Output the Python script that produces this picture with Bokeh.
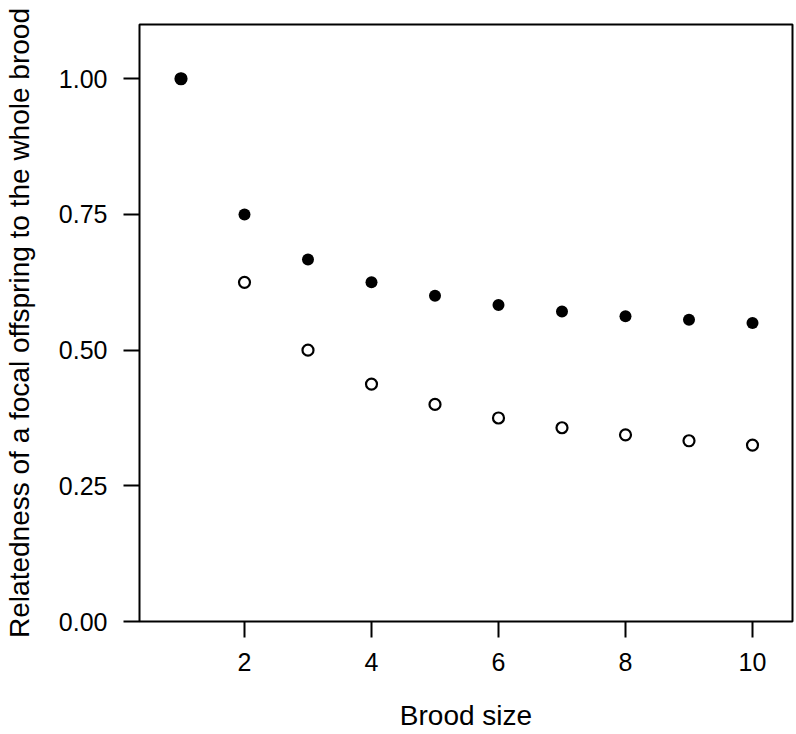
from bokeh.plotting import figure
from bokeh.models import FixedTicker, PrintfTickFormatter, Range1d
from bokeh.embed import file_html
from bokeh.resources import INLINE

# Data
brood_size = [1, 2, 3, 4, 5, 6, 7, 8, 9, 10]
related_filled = [1.00, 0.75, 0.667, 0.625, 0.60, 0.583, 0.571, 0.5625, 0.556, 0.55]
related_open = [1.00, 0.625, 0.50, 0.4375, 0.40, 0.375, 0.357, 0.344, 0.333, 0.325]
x_ticks = [2, 4, 6, 8, 10]
y_ticks = [0.0, 0.25, 0.5, 0.75, 1.0]

FONT = "Liberation Sans"

p = figure(
    width=796, height=734,
    x_range=Range1d(0.3465, 10.63), y_range=Range1d(0, 1.1),
    output_backend="svg", toolbar_location=None,
    min_border_left=139, min_border_right=4,
    min_border_top=24, min_border_bottom=113,
    background_fill_color="white", border_fill_color="white",
)

p.xgrid.visible = False
p.ygrid.visible = False
p.outline_line_color = "black"
p.outline_line_width = 2
p.outline_line_alpha = 1

for ax in (p.xaxis[0], p.yaxis[0]):
    ax.axis_line_color = None
    ax.major_tick_line_color = "black"
    ax.major_tick_line_width = 2
    ax.major_tick_out = 16
    ax.major_tick_in = 0
    ax.minor_tick_line_color = None
    ax.major_label_text_font = FONT
    ax.major_label_text_font_size = "25px"
    ax.major_label_text_color = "black"
    ax.axis_label_text_font = FONT
    ax.axis_label_text_font_size = "28px"
    ax.axis_label_text_font_style = "normal"
    ax.axis_label_text_color = "black"

p.xaxis.ticker = FixedTicker(ticks=x_ticks)
p.yaxis.ticker = FixedTicker(ticks=y_ticks)
p.yaxis.formatter = PrintfTickFormatter(format="%.2f")

p.xaxis.axis_label = "Brood size"
p.yaxis.axis_label = "Relatedness of a focal offspring to the whole brood"
p.xaxis.major_label_standoff = 15
p.yaxis.major_label_standoff = 16
p.xaxis.axis_label_standoff = 26
p.yaxis.axis_label_standoff = 21

p.scatter(brood_size, related_open, marker="circle", size=11,
          fill_color=None, line_color="black", line_width=2.2)
p.scatter(brood_size, related_filled, marker="circle", size=12,
          fill_color="black", line_color=None)

open("out.html", "w").write(file_html(p, INLINE))
